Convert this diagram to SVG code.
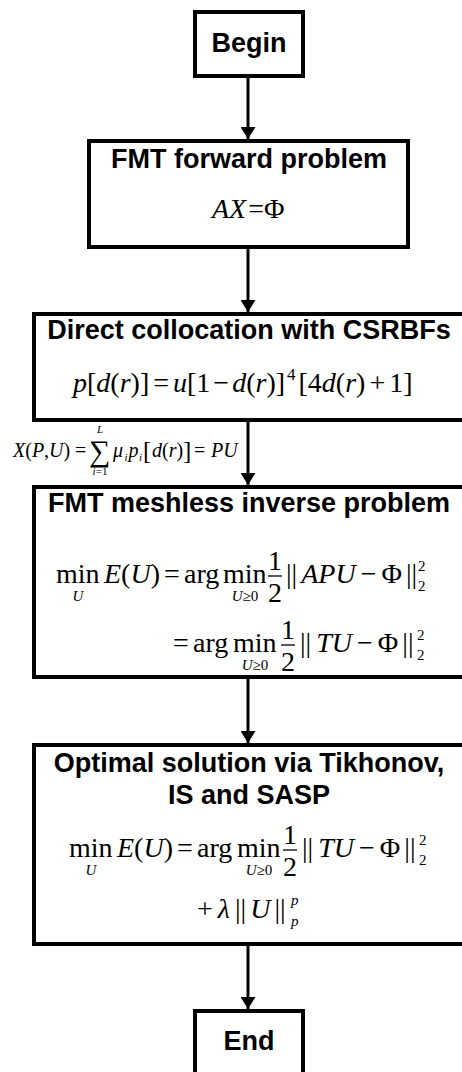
<svg xmlns="http://www.w3.org/2000/svg" width="462" height="1072" viewBox="0 0 462 1072">
<style>
.box{fill:#fff;stroke:#000;stroke-width:4}
.t{font-family:"Liberation Sans",Arial,sans-serif;font-weight:bold;font-size:27px;text-anchor:middle;fill:#000}
.m{font-family:"Liberation Serif","Times New Roman",serif;font-size:28px;fill:#000}
.sm{font-family:"Liberation Serif","Times New Roman",serif;font-size:15px;fill:#000}
.lb{font-family:"Liberation Serif","Times New Roman",serif;font-size:20px;fill:#000}
.ls{font-family:"Liberation Serif","Times New Roman",serif;font-size:11px;fill:#000}
.i{font-style:italic}
.c{text-anchor:middle}
.bar{stroke:#000;stroke-width:1.3}
.conn line{stroke:#000;stroke-width:3;marker-end:url(#ah)}
</style>
<defs>
<marker id="ah" markerUnits="userSpaceOnUse" markerWidth="12" markerHeight="15" refX="12" refY="7.5" orient="auto" viewBox="0 0 12 15">
<path d="M0,0 L12,7.5 L0,15 z" fill="#000"/>
</marker>
</defs>
<rect width="462" height="1072" fill="#fff"/>

<g id="connectors" class="conn">
<line x1="248" y1="78" x2="248" y2="139"/>
<line x1="248" y1="249" x2="248" y2="312"/>
<line x1="248" y1="422" x2="248" y2="485"/>
<line x1="248" y1="679" x2="248" y2="743"/>
<line x1="248" y1="946" x2="248" y2="1009"/>
</g>

<g id="label-XPU">
<text class="lb" x="13" y="457"><tspan class="i">X</tspan>(<tspan class="i">P</tspan>,<tspan class="i">U</tspan>)</text>
<text class="lb" x="75" y="457">=</text>
<text class="m" x="89" y="461" style="font-size:30px">∑</text>
<text class="ls i c" x="100" y="433">L</text>
<text class="ls c" x="100" y="475"><tspan class="i">i</tspan>=1</text>
<text class="lb i" x="113" y="457">μ</text>
<text class="ls i" x="124.5" y="461">i</text>
<text class="lb i" x="128.5" y="457">p</text>
<text class="ls i" x="139" y="461">i</text>
<text class="lb" x="143" y="459" style="font-size:25px">[</text>
<text class="lb" x="152" y="457"><tspan class="i">d</tspan>(<tspan class="i">r</tspan>)</text>
<text class="lb" x="183" y="459" style="font-size:25px">]</text>
<text class="lb" x="194" y="457">=</text>
<text class="lb i" x="211" y="457">PU</text>
</g>

<g id="begin">
<rect class="box" x="195" y="12" width="108" height="64"/>
<text class="t" x="249" y="52">Begin</text>
</g>

<g id="forward">
<rect class="box" x="89" y="141" width="319" height="106"/>
<text class="t" x="249" y="168">FMT forward problem</text>
<text class="m" x="212" y="218"><tspan class="i">AX</tspan><tspan dx="2">=</tspan>Φ</text>
</g>

<g id="csrbf">
<rect class="box" x="34" y="314" width="440" height="106"/>
<text class="t" x="249" y="339">Direct collocation with CSRBFs</text>
<text class="m" x="73" y="392"><tspan class="i">p</tspan>[<tspan class="i">d</tspan>(<tspan class="i">r</tspan>)]<tspan dx="4">=</tspan><tspan dx="4" class="i">u</tspan>[1<tspan dx="3">−</tspan><tspan dx="3" class="i">d</tspan>(<tspan class="i">r</tspan>)]<tspan dx="2" dy="-12" style="font-size:17px">4</tspan><tspan dx="3" dy="12">[4</tspan><tspan class="i">d</tspan>(<tspan class="i">r</tspan>)<tspan dx="4">+</tspan><tspan dx="4">1]</tspan></text>
</g>

<g id="meshless">
<rect class="box" x="34" y="487" width="440" height="190"/>
<text class="t" x="249" y="512">FMT meshless inverse problem</text>
<text class="m" x="56" y="583">min</text>
<text class="sm i c" x="78" y="601">U</text>
<text class="m" x="104" y="583"><tspan class="i">E</tspan>(<tspan class="i">U</tspan>)</text>
<text class="m" x="164" y="583">=</text>
<text class="m" x="184" y="583">arg</text>
<text class="m" x="223" y="583">min</text>
<text class="sm c" x="245" y="601"><tspan class="i">U</tspan>≥0</text>
<text class="m c" x="275" y="570">1</text>
<line class="bar" x1="268" y1="576" x2="282" y2="576"/>
<text class="m c" x="275" y="602">2</text>
<text class="m" x="286" y="583">||<tspan dx="4" class="i">APU</tspan><tspan dx="5">−</tspan><tspan dx="5">Φ</tspan><tspan dx="4">||</tspan></text>
<text class="sm" x="418" y="571">2</text>
<text class="sm" x="418" y="591">2</text>

<text class="m" x="173" y="652">=</text>
<text class="m" x="193" y="652">arg</text>
<text class="m" x="233" y="652">min</text>
<text class="sm c" x="255" y="670"><tspan class="i">U</tspan>≥0</text>
<text class="m c" x="288" y="639">1</text>
<line class="bar" x1="281" y1="645" x2="295" y2="645"/>
<text class="m c" x="288" y="671">2</text>
<text class="m" x="300" y="652">||<tspan dx="5" class="i">TU</tspan><tspan dx="5">−</tspan><tspan dx="5">Φ</tspan><tspan dx="4">||</tspan></text>
<text class="sm" x="417" y="640">2</text>
<text class="sm" x="417" y="660">2</text>
</g>

<g id="optimal">
<rect class="box" x="34" y="745" width="440" height="199"/>
<text class="t" x="249" y="772">Optimal solution via Tikhonov,</text>
<text class="t" x="249" y="804">IS and SASP</text>
<text class="m" x="69" y="857">min</text>
<text class="sm i c" x="91" y="875">U</text>
<text class="m" x="117" y="857"><tspan class="i">E</tspan>(<tspan class="i">U</tspan>)</text>
<text class="m" x="177" y="857">=</text>
<text class="m" x="197" y="857">arg</text>
<text class="m" x="237" y="857">min</text>
<text class="sm c" x="259" y="875"><tspan class="i">U</tspan>≥0</text>
<text class="m c" x="290" y="844">1</text>
<line class="bar" x1="283" y1="850" x2="297" y2="850"/>
<text class="m c" x="290" y="876">2</text>
<text class="m" x="302" y="857">||<tspan dx="5" class="i">TU</tspan><tspan dx="5">−</tspan><tspan dx="5">Φ</tspan><tspan dx="4">||</tspan></text>
<text class="sm" x="419" y="845">2</text>
<text class="sm" x="419" y="865">2</text>

<text class="m" x="197" y="918">+<tspan dx="5" class="i">λ</tspan><tspan dx="5">||</tspan><tspan dx="4" class="i">U</tspan><tspan dx="4">||</tspan></text>
<text class="sm i" x="291" y="905">p</text>
<text class="sm i" x="291" y="926">p</text>
</g>

<g id="end">
<rect class="box" x="195" y="1011" width="108" height="70"/>
<text class="t" x="249" y="1050">End</text>
</g>
</svg>
